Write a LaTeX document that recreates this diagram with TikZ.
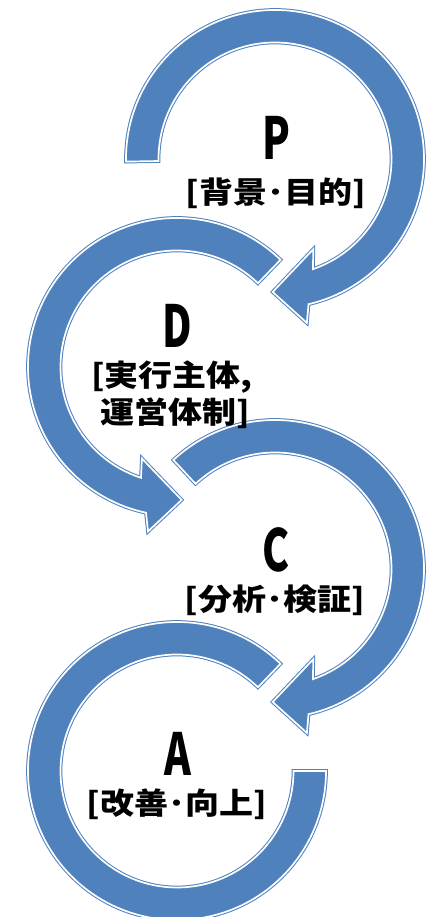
\documentclass[tikz,border=0pt]{standalone}
\usepackage{fontspec}
\newfontfamily\jp{Noto Sans CJK JP}
\definecolor{pdcablue}{RGB}{79,129,189}
\tikzset{
  band/.style={fill=pdcablue, draw=pdcablue, double=white, line width=1pt, double distance=1.7pt, line join=miter},
  bigletter/.style={inner sep=0pt, font=\jp\bfseries\fontsize{58}{58}\selectfont},
  subtext/.style={inner sep=0pt, font=\jp\bfseries\fontsize{34}{36}\selectfont}
}
\newcommand{\Ro}{149}
\newcommand{\Ri}{116.5}
\begin{document}
\begin{tikzpicture}[x=1pt,y=1pt]
\useasboundingbox (0,0) rectangle (437,917);
% P : clockwise
\begin{scope}[shift={(275,758)}]
\path[band] (181:\Ro) arc[start angle=181, end angle=-77, radius=\Ro]
  -- (-79:167) -- (-91:133) -- (-67:98) -- (-71:\Ri)
  arc[start angle=-71, end angle=181, radius=\Ri] -- cycle;
\end{scope}
% D : counterclockwise
\begin{scope}[shift={(177,550)}]
\path[band] (46:\Ro) arc[start angle=46, end angle=258, radius=\Ro]
  -- (260:167) -- (272:133) -- (249:98) -- (252:\Ri)
  arc[start angle=252, end angle=46, radius=\Ri] -- cycle;
\end{scope}
% C : clockwise
\begin{scope}[shift={(275,348)}]
\path[band] (133:\Ro) arc[start angle=133, end angle=-77, radius=\Ro]
  -- (-79:167) -- (-91:133) -- (-67:98) -- (-71:\Ri)
  arc[start angle=-71, end angle=133, radius=\Ri] -- cycle;
\end{scope}
% A : counterclockwise, flat end
\begin{scope}[shift={(177,146)}]
\path[band] (46:\Ro) arc[start angle=46, end angle=360, radius=\Ro]
  -- (0:\Ri) arc[start angle=360, end angle=46, radius=\Ri] -- cycle;
\end{scope}
% texts
\node[bigletter] (pl) at (276,779) {\scalebox{0.7}[1]{P}};
\node[subtext] (pt) at (276,724) {\scalebox{1}[0.88]{[背景･目的]}};
\node[bigletter] (dl) at (177,591) {\scalebox{0.7}[1]{D}};
\node[subtext] (dt1) at (172,540) {\scalebox{1}[0.88]{[実行主体,}};
\node[subtext] (dt2) at (175,504) {\scalebox{1}[0.88]{運営体制]}};
\node[bigletter] (cl) at (276,367) {\scalebox{0.7}[1]{C}};
\node[subtext] (ct) at (275,317) {\scalebox{1}[0.88]{[分析･検証]}};
\node[bigletter] (al) at (178,163) {\scalebox{0.7}[1]{A}};
\node[subtext] (at) at (177,113) {\scalebox{1}[0.88]{[改善･向上]}};
\end{tikzpicture}
\end{document}
